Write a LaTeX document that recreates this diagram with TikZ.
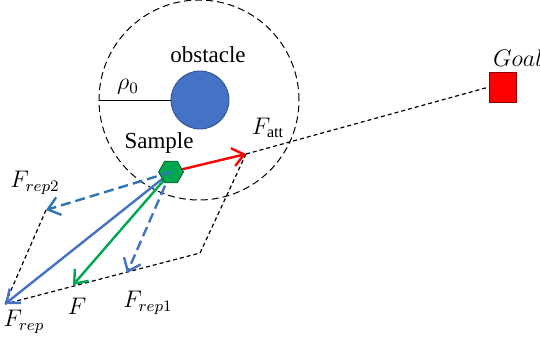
\documentclass[tikz,border=0pt]{standalone}
\usepackage{fontspec}
\setmainfont{Liberation Serif}
\usepackage{xcolor}
\usepackage{tikz}
\usetikzlibrary{arrows.meta,shapes.geometric}
\definecolor{obsblue}{HTML}{4472C4}
\definecolor{repblue}{HTML}{2E75B6}
\definecolor{fgreen}{HTML}{00A650}
\definecolor{attred}{HTML}{FF0000}

\begin{document}
\begin{tikzpicture}[x=0.5pt,y=-0.5pt,font=\fontsize{11.5}{13}\selectfont,
  vec/.style={line width=1.2pt,-{Straight Barb[length=2mm,width=3.2mm]}},
  auxline/.style={dash pattern=on 2pt off 1.5pt, line width=0.6pt}]
\useasboundingbox (0,0) rectangle (540,339);
\node[circle, draw, dash pattern=on 3.5pt off 2pt, line width=0.5pt,
  minimum size=100pt, inner sep=0] (zone) at (199,100) {};
\node[circle, fill=obsblue, draw=obsblue!70!black, line width=0.4pt,
  minimum size=29pt, inner sep=0] (obs) at (200,100) {};
\draw[line width=0.5pt] (zone.west) -- (obs.west);
\node (obslabel) at (208,55) {obstacle};
\node (rholabel) at (128,87) {$\rho_0$};
\node (smplabel) at (159,143) {Sample};
\node[rectangle, fill=attred, draw=attred!55!black, line width=0.4pt,
  minimum width=13.5pt, minimum height=15pt, inner sep=0] (goal) at (503,87) {};
\node (goallabel) at (518,58) {$Goal$};

\coordinate (s) at (171,172);
\coordinate (att) at (246,154);
\coordinate (corner) at (200,253);
\coordinate (rep) at (5,304);
\coordinate (rep1) at (127,273);
\coordinate (rep2) at (46,210);
\coordinate (f) at (73,285);

% parallelogram lines
\draw[auxline] (att) -- (goal.west);
\draw[auxline] (att) -- (corner) -- (rep);
\draw[auxline] (rep2) -- (rep);

% forces
\draw[vec, obsblue] (s) -- (rep);
\draw[vec, fgreen] (s) -- (f);
\draw[vec, obsblue, dash pattern=on 5pt off 2.5pt] (s) -- (rep1);
\draw[vec, attred] (s) -- (att);
\node[regular polygon, regular polygon sides=6, fill=fgreen,
  draw=fgreen!60!black, line width=0.4pt, minimum size=12.5pt, inner sep=0] (smp) at (s) {};
\draw[vec, repblue, dash pattern=on 5pt off 2.5pt] (s) -- (rep2);

\node (attlabel) at (268,128) {$F_{\mathrm{att}}$};
\node (rep2label) at (35,183) {$F_{rep2}$};
\node (flabel) at (77,306) {$F$};
\node (rep1label) at (148,303) {$F_{rep1}$};
\node (replabel) at (24,322) {$F_{rep}$};
\end{tikzpicture}
\end{document}
